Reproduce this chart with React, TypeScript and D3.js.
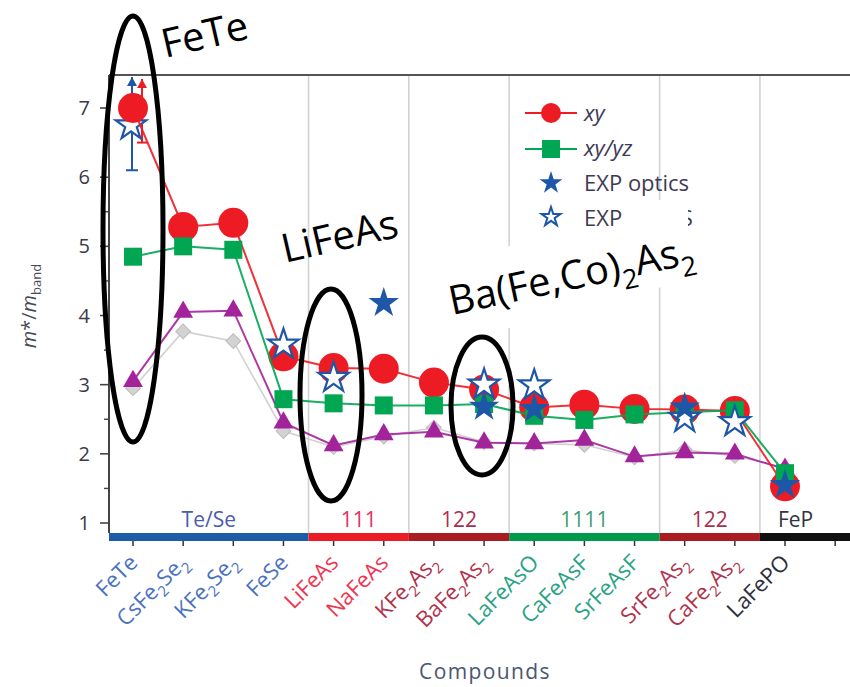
import React from "react";
import * as d3 from "d3";

// Compounds along the x axis (digits are drawn as subscripts)
const compounds = [
  "FeTe", "CsFe2Se2", "KFe2Se2", "FeSe", "LiFeAs", "NaFeAs", "KFe2As2",
  "BaFe2As2", "LaFeAsO", "CaFeAsF", "SrFeAsF", "SrFe2As2", "CaFe2As2", "LaFePO",
];

// Structural families: name, first and last compound index
const groupNames = ["Te/Se", "111", "122", "1111", "122", "FeP"];
const groupFirst = [0, 4, 6, 8, 11, 13];
const groupLast = [3, 5, 7, 10, 12, 14];

// Mass enhancement m*/m_band
const xyValues = [7.0, 5.28, 5.34, 3.41, 3.24, 3.23, 3.03, 2.93, 2.67, 2.71, 2.65, 2.64, 2.62, 1.53];
const xyYzValues = [4.85, 5.0, 4.95, 2.79, 2.73, 2.7, 2.7, 2.72, 2.55, 2.49, 2.57, 2.6, 2.63, 1.72];
const triValues = [3.05, 4.05, 4.07, 2.45, 2.12, 2.28, 2.32, 2.16, 2.15, 2.2, 1.96, 2.02, 2.0, 1.78];
const diaValues = [2.95, 3.77, 3.63, 2.33, 2.1, 2.25, 2.38, 2.17, 2.15, 2.13, 1.95, 2.06, 1.97, 1.8];

// Experimental estimates: compound index and value
const opticsIdx = [5, 7, 8, 11, 13];
const opticsVal = [4.18, 2.68, 2.65, 2.67, 1.55];
const arpesIdx = [0, 3, 4, 7, 8, 11, 12];
const arpesVal = [6.75, 3.58, 3.1, 3.0, 2.99, 2.52, 2.46];

// FeTe error bars: [low, high]
const fetArpesRange = [6.1, 7.45];
const fetXyRange = [6.5, 7.42];

const yTicks = [1, 2, 3, 4, 5, 6, 7];
const yMinorTicks = [1.5, 2.5, 3.5, 4.5, 5.5, 6.5];

const legendLabels = ["xy", "xy/yz", "EXP optics", "EXP ARPES"];

const FONT = "'Open Sans', 'DejaVu Sans', sans-serif";
const groupBarColors = ["#1f5ca8", "#ec1c24", "#a81c22", "#009a4a", "#a81c22", "#111111"];
const groupTextColors = ["#4a5cae", "#e8306a", "#a8304e", "#3d9c78", "#a8304e", "#333344"];
const labelColors = ["#4a72c0", "#ef3550", "#b0334c", "#2aa283", "#b0334c", "#2e2e3c"];

const RED = "#ed1c24";
const GREEN = "#00a651";
const PURPLE = "#a3239b";
const BLUE = "#1f57a8";

const W = 850;
const H = 687;
const left = 109;
const top = 75;
const bottom = 533;

const x = d3.scaleLinear().domain([0, 13]).range([133, 785]);
const y = d3.scaleLinear().domain([1, 7]).range([523, 108]);

const starPath = (r: number) => d3.symbol(d3.symbolStar, (r * r) / 0.8908130915292852)()!;
const triPath = d3.symbol(d3.symbolTriangle, 170)()!;
const diaPath = d3.symbol(d3.symbolSquare, 110)()!;

function groupOf(i: number) {
  for (let g = 0; g < groupFirst.length; g++) if (i >= groupFirst[g] && i <= groupLast[g]) return g;
  return 0;
}

function Formula({ text, size, subSize }: { text: string; size: number; subSize: number }) {
  const parts = text.split(/(\d)/).filter((p) => p.length > 0);
  let shifted = false;
  return (
    <>
      {parts.map((p, k) => {
        const isSub = /\d/.test(p);
        let dy = 0;
        if (isSub && !shifted) { dy = size * 0.28; shifted = true; }
        else if (!isSub && shifted) { dy = -size * 0.28; shifted = false; }
        return (
          <tspan key={k} dy={dy} fontSize={isSub ? subSize : size}>{p}</tspan>
        );
      })}
    </>
  );
}

function Series({ values, color, width, marker }: {
  values: number[]; color: string; width: number; marker: (cx: number, cy: number, k: number) => React.ReactNode;
}) {
  const line = d3.line<number>().x((_, i) => x(i)).y((v) => y(v));
  return (
    <g>
      <path d={line(values)!} fill="none" stroke={color} strokeWidth={width} strokeOpacity={0.9} />
      {values.map((v, i) => marker(x(i), y(v), i))}
    </g>
  );
}

export default function App() {
  const bounds = groupFirst.map((f, g) => [g === 0 ? left : x(f - 0.5), Math.min(W, x(groupLast[g] + 0.5))]);
  const separators = groupFirst.slice(1).map((f) => x(f - 0.5));
  const tickIdx = d3.range(0, 15);

  const arrowHead = (cx: number, cy: number, color: string) => (
    <path d={`M${cx - 5},${cy + 9}L${cx},${cy}L${cx + 5},${cy + 9}Z`} fill={color} />
  );

  return (
    <svg width={W} height={H} style={{ position: "absolute", left: 0, top: 0, background: "#fff" }} fontFamily={FONT}>
      <rect width={W} height={H} fill="#fff" />

      {/* family separators */}
      {separators.map((sx, k) => (
        <line key={k} x1={sx} x2={sx} y1={top} y2={bottom} stroke="#d2d2d2" strokeWidth={1.6} />
      ))}

      {/* frame */}
      <line x1={left} x2={W} y1={top} y2={top} stroke="#555" strokeWidth={2} />
      <line x1={left} x2={left} y1={top} y2={bottom} stroke="#444" strokeWidth={2} />

      {/* y axis */}
      {yTicks.map((t) => (
        <g key={t}>
          <line x1={left - 9} x2={left} y1={y(t)} y2={y(t)} stroke="#444" strokeWidth={1.6} />
          <text x={90} y={y(t) + 7} textAnchor="end" fontSize={20} fill="#3a3a48">{t}</text>
        </g>
      ))}
      {yMinorTicks.map((t) => (
        <line key={t} x1={left - 5} x2={left} y1={y(t)} y2={y(t)} stroke="#444" strokeWidth={1.4} />
      ))}
      <text transform="translate(36,306) rotate(-90)" textAnchor="middle" fontSize={20} fill="#4a4a58">
        <tspan fontStyle="italic">m</tspan>
        <tspan>*/</tspan>
        <tspan fontStyle="italic">m</tspan>
        <tspan fontSize={13} dy={5}>band</tspan>
      </text>

      {/* family bar and names */}
      {bounds.map(([a, b], g) => (
        <g key={g}>
          <rect x={a} y={bottom} width={b - a} height={8} fill={groupBarColors[g]} />
          <text x={(a + Math.min(b, x(14))) / 2 + (g === 5 ? -2 : 0)} y={527} textAnchor="middle" fontSize={21} fill={groupTextColors[g]}>
            {groupNames[g]}
          </text>
        </g>
      ))}
      {tickIdx.map((i) => (
        <line key={i} x1={x(i)} x2={x(i)} y1={bottom + 8} y2={bottom + 13} stroke="#333" strokeWidth={1.5} />
      ))}
      {compounds.map((c, i) => (
        <text key={c} transform={`translate(${x(i) + 6},${564}) rotate(-45)`} textAnchor="end" fontSize={22} fill={labelColors[groupOf(i)]}>
          <Formula text={c} size={22} subSize={15} />
        </text>
      ))}
      <text x={485} y={679} textAnchor="middle" fontSize={21} letterSpacing={1.4} fill="#4a5670">Compounds</text>

      {/* FeTe error bars and ARPES estimate */}
      <g>
        <line x1={x(0) - 1} x2={x(0) - 1} y1={y(fetArpesRange[0])} y2={y(fetArpesRange[1])} stroke={BLUE} strokeWidth={2} />
        <line x1={x(0) - 7} x2={x(0) + 5} y1={y(fetArpesRange[0])} y2={y(fetArpesRange[0])} stroke={BLUE} strokeWidth={2} />
        {arrowHead(x(0) - 1, y(fetArpesRange[1]), BLUE)}
        <line x1={x(0) + 9} x2={x(0) + 9} y1={y(fetXyRange[0])} y2={y(fetXyRange[1])} stroke={RED} strokeWidth={2} />
        <line x1={x(0) + 4} x2={x(0) + 14} y1={y(fetXyRange[0])} y2={y(fetXyRange[0])} stroke={RED} strokeWidth={2} />
        {arrowHead(x(0) + 9, y(fetXyRange[1]), RED)}
        <path transform={`translate(${x(arpesIdx[0]) - 2},${y(arpesVal[0])})`} d={starPath(16)} fill="#fff" stroke={BLUE} strokeWidth={2.2} />
      </g>

      {/* calculated series */}
      <Series values={diaValues} color="#cccccc" width={1.6} marker={(cx, cy, k) => (
        <path key={k} transform={`translate(${cx},${cy}) rotate(45)`} d={diaPath} fill="#d3d3d3" stroke="#bcbcbc" strokeWidth={1} />
      )} />
      <Series values={triValues} color={PURPLE} width={2} marker={(cx, cy, k) => (
        <path key={k} transform={`translate(${cx},${cy})`} d={triPath} fill={PURPLE} />
      )} />
      <Series values={xyValues} color={RED} width={2} marker={(cx, cy, k) => (
        <circle key={k} cx={cx} cy={cy} r={15} fill={RED} />
      )} />
      <Series values={xyYzValues} color={GREEN} width={2} marker={(cx, cy, k) => (
        <rect key={k} x={cx - 9} y={cy - 9} width={18} height={18} fill={GREEN} />
      )} />

      {/* experimental points */}
      {arpesIdx.slice(1).map((i, k) => (
        <path key={i} transform={`translate(${x(i)},${y(arpesVal[k + 1])})`} d={starPath(16)} fill="#fff" stroke={BLUE} strokeWidth={2.2} />
      ))}
      {opticsIdx.map((i, k) => (
        <path key={i} transform={`translate(${x(i)},${y(opticsVal[k])})`} d={starPath(16)} fill={BLUE} />
      ))}

      {/* legend */}
      <g>
        <line x1={525} x2={577} y1={113} y2={113} stroke={RED} strokeWidth={2} />
        <circle cx={551} cy={113} r={10} fill={RED} />
        <line x1={525} x2={577} y1={149} y2={149} stroke={GREEN} strokeWidth={2} />
        <rect x={542} y={140} width={18} height={18} fill={GREEN} />
        <path transform="translate(551,183)" d={starPath(12)} fill={BLUE} />
        <path transform="translate(551,217)" d={starPath(10)} fill="#fff" stroke={BLUE} strokeWidth={2} />
        {legendLabels.map((l, k) => (
          <text key={l} x={584} y={121 + k * 35} fontSize={22} fill="#3e3a55" fontStyle={k < 2 ? "italic" : "normal"}>{l}</text>
        ))}
      </g>

      {/* annotations */}
      <polygon points="445,258 628,224 628,200 688,200 688,280 445,345" fill="#fff" />
      <text transform="translate(165,58) rotate(-13)" fontSize={40} fill="#000">FeTe</text>
      <text transform="translate(285,263) rotate(-13)" fontSize={40} fill="#000">LiFeAs</text>
      <text transform="translate(452,315) rotate(-12)" fill="#000">
        <Formula text="Ba(Fe,Co)2As2" size={40} subSize={27} />
      </text>
      <ellipse cx={133} cy={229} rx={30} ry={213} fill="none" stroke="#000" strokeWidth={5} />
      <ellipse cx={331} cy={395} rx={31} ry={106} fill="none" stroke="#000" strokeWidth={5} />
      <ellipse cx={482} cy={406} rx={31} ry={69} fill="none" stroke="#000" strokeWidth={5} />
    </svg>
  );
}
